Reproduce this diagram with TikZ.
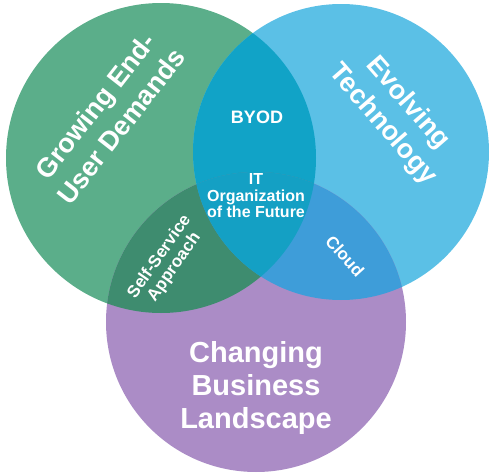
\documentclass[tikz,border=0pt]{standalone}
\usepackage{fontspec}
\setmainfont{Liberation Sans}

\definecolor{growgreen}{HTML}{5BAE8A}
\definecolor{evolveblue}{HTML}{5BC0E6}
\definecolor{changepurple}{HTML}{AB8CC6}
\definecolor{byodteal}{HTML}{11A3C7}
\definecolor{selfgreen}{HTML}{3E8C6F}
\definecolor{cloudblue}{HTML}{3E9DD9}
\definecolor{futureteal}{HTML}{14A0C4}

\tikzset{
  biglabel/.style={text=white, align=center, font=\bfseries\fontsize{27}{33}\selectfont},
  smalllabel/.style={text=white, align=center, font=\bfseries\fontsize{17}{18}\selectfont}
}

\begin{document}
\begin{tikzpicture}[x=1pt,y=-1pt]
\useasboundingbox (0,0) rectangle (491,474);

% Circles
\coordinate (grow) at (161,158);
\coordinate (evolve) at (341,152);
\coordinate (change) at (256,322);
\fill[growgreen] (grow) circle (155pt);
\fill[evolveblue] (evolve) circle (148pt);
\fill[changepurple] (change) circle (150pt);

% Overlaps
\begin{scope}
  \clip (grow) circle (155pt);
  \fill[byodteal] (evolve) circle (148pt);
  \fill[selfgreen] (change) circle (150pt);
\end{scope}
\begin{scope}
  \clip (evolve) circle (148pt);
  \fill[cloudblue] (change) circle (150pt);
\end{scope}
\begin{scope}
  \clip (grow) circle (155pt);
  \clip (evolve) circle (148pt);
  \fill[futureteal] (change) circle (150pt);
\end{scope}

% Labels
\node[biglabel, rotate=52] (growing) at (108,116) {Growing End-\\User Demands};
\node[biglabel, rotate=-49] (evolving) at (395,114) {Evolving\\Technology};
\node[biglabel, font=\bfseries\fontsize{29}{33}\selectfont] (changing) at (256,388) {Changing\\Business\\Landscape};
\node[smalllabel, font=\bfseries\fontsize{18}{18}\selectfont] (byod) at (257,117) {BYOD};
\node[smalllabel, font=\bfseries\fontsize{16}{16.5}\selectfont] (future) at (256,196) {IT\\Organization\\of the Future};
\node[smalllabel, rotate=55] (selfservice) at (167,262) {Self-Service\\Approach};
\node[smalllabel, rotate=-48] (cloud) at (345,256) {Cloud};
\end{tikzpicture}
\end{document}
